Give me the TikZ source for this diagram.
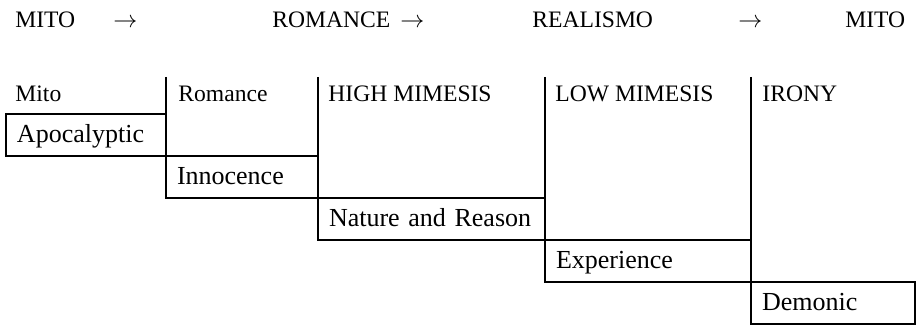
\documentclass[tikz,border=0pt]{standalone}
\usepackage{fontspec}
\setmainfont{Liberation Serif}
\usetikzlibrary{positioning}

\begin{document}
\begin{tikzpicture}[x=0.5pt, y=-0.5pt,
        head/.style={anchor=base west, inner sep=0pt, font=\fontsize{11.8}{14}\selectfont},
        cell/.style={draw, line width=1pt, outer sep=0pt, inner xsep=5.5pt, inner ysep=0pt,
            minimum height=21pt, text height=9pt, text depth=1pt, align=left,
            font=\fontsize{13}{15}\selectfont},
        rule/.style={line width=1pt},
    ]
    \useasboundingbox (0,0) rectangle (918,326);
    % Top row
    \node[head] (mito) at (15, 28) {MITO};
    \node[head] (ar1) at (113, 28) {$\rightarrow$};
    \node[head] (rom) at (272, 28) {ROMANCE};
    \node[head] (ar2) at (400, 28) {$\rightarrow$};
    \node[head] (real) at (532, 28) {REALISMO};
    \node[head] (ar3) at (738, 28) {$\rightarrow$};
    \node[head] (mitob) at (845, 28) {MITO};
    % Modes
    \node[head] (cmito) at (15, 102) {Mito};
    \node[head] (crom) at (178, 102) {Romance};
    \node[head] (chigh) at (328, 102) {HIGH MIMESIS};
    \node[head] (clow) at (555, 102) {LOW MIMESIS};
    \node[head] (cirony) at (762, 102) {IRONY};
    % Step boxes
    \node[cell, anchor=north west, text width=69pt] (apoc) at (6, 114) {Apocalyptic};
    \node[cell, text width=65pt, below right=0pt of apoc] (inno) {Innocence};
    \node[cell, text width=102.5pt, below right=0pt of inno] (nat) {Nature and Reason};
    \node[cell, text width=92pt, below right=0pt of nat] (exp) {Experience};
    \node[cell, text width=71pt, below right=0pt of exp] (dem) {Demonic};
    % Column rules
    \coordinate (top) at (0, 77);
    \draw[rule] (top -| inno.south west) -- (inno.south west);
    \draw[rule] (top -| nat.south west) -- (nat.south west);
    \draw[rule] (top -| exp.south west) -- (exp.south west);
    \draw[rule] (top -| dem.south west) -- (dem.south west);
\end{tikzpicture}
\end{document}
